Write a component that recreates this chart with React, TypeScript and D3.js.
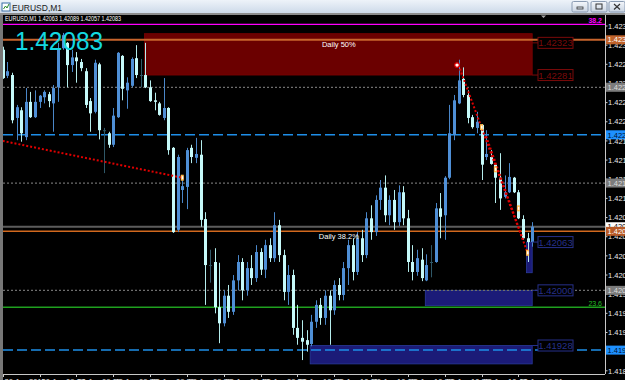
import React from 'react';
import * as d3 from 'd3';

// ---------- DATA ----------
const barOpen = [
  1.42314, 1.4228, 1.42281, 1.42225, 1.42235, 1.422, 1.42246, 1.42226, 1.42246, 1.42252,
  1.42256, 1.42244, 1.42265, 1.42316, 1.42323, 1.42294, 1.42304, 1.42298, 1.42286, 1.42247,
  1.42233, 1.42295, 1.42209, 1.42205, 1.4219, 1.42226, 1.42306, 1.42261, 1.42267, 1.42303,
  1.42281, 1.42281, 1.42265, 1.42248, 1.42244, 1.42225, 1.42238, 1.42186, 1.42079, 1.42131,
  1.42135, 1.42186, 1.42173, 1.42177, 1.42093, 1.42033, 1.42037, 1.41978, 1.41957, 1.41993,
  1.41972, 1.42013, 1.42037, 1.42, 1.42029, 1.42016, 1.4205, 1.42027, 1.42059, 1.42042,
  1.42085, 1.42046, 1.41998, 1.4202, 1.41951, 1.41938, 1.41935, 1.4193, 1.41959, 1.41981,
  1.41964, 1.41993, 1.41974, 1.42007, 1.41994, 1.42029, 1.42059, 1.42024, 1.42068, 1.42046,
  1.42094, 1.42076, 1.42118, 1.42134, 1.42098, 1.42118, 1.42089, 1.42128, 1.42094, 1.42037,
  1.42024, 1.4204, 1.42013, 1.42036, 1.42037, 1.42107, 1.42098, 1.42147, 1.42203, 1.42244,
  1.42276, 1.42255, 1.42226, 1.42212, 1.42216, 1.42174, 1.42174, 1.42164, 1.42147, 1.42122,
  1.42128, 1.42147, 1.42128, 1.42093, 1.42068, 1.42063,
];
const barHigh = [
  1.42318, 1.42298, 1.42284, 1.42242, 1.42239, 1.42264, 1.42259, 1.42261, 1.42255, 1.42261,
  1.42259, 1.42268, 1.42323, 1.42336, 1.42324, 1.42314, 1.42311, 1.42302, 1.4229, 1.42251,
  1.42301, 1.42297, 1.42212, 1.42207, 1.42238, 1.42311, 1.42307, 1.42278, 1.42304, 1.4232,
  1.42302, 1.42323, 1.42274, 1.42258, 1.42246, 1.42277, 1.42239, 1.42187, 1.42177, 1.42149,
  1.42186, 1.4219, 1.42199, 1.42196, 1.42102, 1.42053, 1.42055, 1.42036, 1.42, 1.42007,
  1.4202, 1.42046, 1.42042, 1.42037, 1.42046, 1.42059, 1.42055, 1.42066, 1.42068, 1.42102,
  1.42092, 1.42053, 1.42033, 1.42027, 1.41981, 1.41961, 1.41948, 1.41968, 1.41987, 1.4199,
  1.42, 1.42, 1.42013, 1.42016, 1.42037, 1.42066, 1.42068, 1.42076, 1.42079, 1.42102,
  1.42111, 1.42124, 1.42144, 1.4215, 1.42124, 1.42131, 1.42137, 1.42136, 1.42105, 1.42059,
  1.42053, 1.42055, 1.42047, 1.42059, 1.42114, 1.42127, 1.42149, 1.42242, 1.42255, 1.42301,
  1.42291, 1.42261, 1.42229, 1.42233, 1.42217, 1.42209, 1.42183, 1.42166, 1.42179, 1.4215,
  1.42166, 1.42148, 1.42131, 1.42098, 1.42075, 1.42089,
];
const barLow = [
  1.42276, 1.42277, 1.42218, 1.42196, 1.42194, 1.42196, 1.42225, 1.42225, 1.42238, 1.42244,
  1.42239, 1.42207, 1.42246, 1.42314, 1.42265, 1.42285, 1.42271, 1.42286, 1.42238, 1.42207,
  1.42231, 1.42197, 1.42153, 1.42186, 1.42187, 1.42225, 1.42248, 1.42237, 1.42265, 1.42277,
  1.42265, 1.42264, 1.42246, 1.42235, 1.42228, 1.42222, 1.42177, 1.42075, 1.42076, 1.42114,
  1.42106, 1.42166, 1.42166, 1.42083, 1.41981, 1.4201, 1.4197, 1.41931, 1.41953, 1.41964,
  1.41968, 1.42, 1.41987, 1.41993, 1.42007, 1.42011, 1.4202, 1.42016, 1.42037, 1.42037,
  1.42037, 1.41987, 1.41981, 1.41942, 1.41929, 1.41909, 1.4192, 1.41927, 1.41951, 1.41955,
  1.41955, 1.41929, 1.41968, 1.41987, 1.41987, 1.42007, 1.42013, 1.4202, 1.42037, 1.42042,
  1.42066, 1.42071, 1.42105, 1.42089, 1.42085, 1.42079, 1.42084, 1.42085, 1.42024, 1.42013,
  1.42019, 1.42012, 1.42012, 1.42017, 1.42036, 1.42068, 1.42066, 1.42145, 1.42196, 1.42243,
  1.42252, 1.42218, 1.42211, 1.42205, 1.42144, 1.4217, 1.42164, 1.42114, 1.42105, 1.4212,
  1.42127, 1.42127, 1.42093, 1.42066, 1.42037, 1.42057,
];
const barClose = [
  1.42277, 1.42286, 1.42222, 1.42239, 1.42205, 1.42246, 1.42226, 1.42246, 1.42254, 1.42259,
  1.42247, 1.42264, 1.42314, 1.42333, 1.42294, 1.42304, 1.42299, 1.4229, 1.42242, 1.42231,
  1.42297, 1.42209, 1.42208, 1.4219, 1.42228, 1.4231, 1.42263, 1.42271, 1.42302, 1.42281,
  1.4228, 1.42265, 1.42247, 1.42246, 1.42229, 1.42238, 1.42183, 1.42076, 1.42174, 1.42136,
  1.42183, 1.42174, 1.42178, 1.42092, 1.42033, 1.42032, 1.41978, 1.41957, 1.41993, 1.41972,
  1.42013, 1.42037, 1.42, 1.42029, 1.42016, 1.4205, 1.42027, 1.42059, 1.42042, 1.42085,
  1.42046, 1.41998, 1.4202, 1.41951, 1.41938, 1.41933, 1.41929, 1.41959, 1.41981, 1.41964,
  1.41993, 1.41974, 1.42007, 1.41994, 1.42029, 1.42059, 1.42024, 1.42068, 1.42046, 1.42094,
  1.42076, 1.42118, 1.42134, 1.42098, 1.42118, 1.42089, 1.42128, 1.42094, 1.42037, 1.42024,
  1.42042, 1.42016, 1.42033, 1.42037, 1.42107, 1.42096, 1.42147, 1.42205, 1.42248, 1.42274,
  1.42255, 1.42225, 1.42213, 1.4222, 1.42164, 1.42178, 1.42165, 1.42147, 1.4212, 1.42128,
  1.42148, 1.42128, 1.42094, 1.42068, 1.42063, 1.42083,
];

const timeLabels = [
  '20 Jun 2011', '20 Jun 09:07', '20 Jun 09:15', '20 Jun 09:23', '20 Jun 09:31',
  '20 Jun 09:39', '20 Jun 09:47', '20 Jun 09:55', '20 Jun 10:03', '20 Jun 10:11',
  '20 Jun 10:19', '20 Jun 10:27', '20 Jun 10:35', '20 Jun 10:43', '20 Jun 10:51',
];
const timeLabelBars = [0, 8, 16, 24, 32, 40, 48, 56, 64, 72, 80, 88, 96, 104, 112];

const priceTicks = [
  '1.42345', '1.42320', '1.42295', '1.42270', '1.42245', '1.42220', '1.42195', '1.42170',
  '1.42145', '1.42120', '1.42095', '1.42070', '1.42045', '1.42020', '1.41995', '1.41970',
  '1.41945', '1.41920', '1.41895',
];

// horizontal levels: magenta fib, orange fib 50%, grey, blue, grey, bid, orange fib 38.2%, grey, green fib 23.6, blue
const levelPrices = [1.42347, 1.42327, 1.42265, 1.42203, 1.4214, 1.42083, 1.42077, 1.42, 1.41978, 1.41922];
const levelNames = ['38.2', 'Daily 50%', '', '', '', '', 'Daily 38.2%', '', '23.6', ''];

// zones: [top, bottom], starting bar
const zoneTop = [1.42335, 1.42, 1.41928, 1.42063];
const zoneBottom = [1.42281, 1.4198, 1.41904, 1.42023];
const zoneStartBar = [31, 92, 67, 114];

const zoneLabelPrices = [1.42323, 1.42281, 1.42063, 1.42, 1.41928];

// trend lines: [bar, price] pairs
const trendA = [[0, 1.42195], [39, 1.42147]];
const trendB = [[99, 1.42294], [114, 1.42049]];
const trendC = [[105, 1.42201], [113, 1.42066]];

const markerBars = [39, 104, 107, 112, 114];
const markerPrices = [1.42147, 1.42213, 1.42158, 1.42107, 1.42049];

const infoText = 'EURUSD,M1  1.42063 1.42089 1.42057 1.42083';
const bigPrice = '1.42083';

// ---------- CHART ----------
export default function App() {
  const W = 625;
  const H = 380;
  const left = 3;
  const axisX = 605;
  const top = 15;
  const bottom = 374;

  const x = d3.scaleLinear().domain([0, barOpen.length - 1]).range([2.7, 532.2]);
  const y = d3.scaleLinear().domain([1.41895, 1.42345]).range([370.8, 26]);
  const fmt = d3.format('.5f');
  const line = d3.line<number[]>().x((d) => x(d[0])).y((d) => y(d[1]));

  const bullBody = '#4f8fd6';
  const bearBody = '#c6fafa';
  const dojiCol = '#2f5868';
  const font = "'Liberation Sans', Arial, sans-serif";

  const levelStyles = [
    { c: '#ff00ff', w: 1.2, d: undefined, tag: null },
    { c: '#c8642c', w: 2, d: undefined, tag: { bg: '#c0632b', fg: '#ffffff' } },
    { c: '#6e6e6e', w: 1.2, d: '2,2', tag: { bg: '#7c7c7c', fg: '#dddddd' } },
    { c: '#1e8ee8', w: 1.5, d: '10,4', tag: { bg: '#1e90ff', fg: '#001030' } },
    { c: '#6e6e6e', w: 1.2, d: '2,2', tag: { bg: '#7c7c7c', fg: '#dddddd' } },
    { c: '#5c5c5c', w: 2, d: undefined, tag: { bg: '#ffffff', fg: '#000000' } },
    { c: '#d2691e', w: 1.5, d: undefined, tag: { bg: '#b85a26', fg: '#ffffff' } },
    { c: '#6e6e6e', w: 1.2, d: '2,2', tag: { bg: '#7c7c7c', fg: '#dddddd' } },
    { c: '#1fa01f', w: 1.5, d: undefined, tag: null },
    { c: '#1e8ee8', w: 1.5, d: '10,4', tag: { bg: '#1e90ff', fg: '#001030' } },
  ];
  const zoneColors = ['#6b0000', '#1b1b78', '#1b1b78', '#1b1b78'];
  const zoneLabelColors = ['#7a0a0a', '#7a0a0a', '#26308a', '#26308a', '#26308a'];
  const zoneRight = x(barOpen.length - 1);

  return (
    <svg
      width={W}
      height={H}
      style={{ position: 'absolute', left: 0, top: 0, display: 'block' }}
      fontFamily={font}
    >
      <defs>
        <clipPath id="plotClip">
          <rect x={left} y={top} width={axisX - left} height={bottom - top} />
        </clipPath>
        <linearGradient id="titleGrad" x1="0" y1="0" x2="0" y2="1">
          <stop offset="0" stopColor="#eef3f9" />
          <stop offset="1" stopColor="#cbd8e8" />
        </linearGradient>
        <linearGradient id="btnGrad" x1="0" y1="0" x2="0" y2="1">
          <stop offset="0" stopColor="#f4f7fb" />
          <stop offset="1" stopColor="#c9d4e2" />
        </linearGradient>
      </defs>

      {/* window */}
      <rect x={0} y={0} width={W} height={H} fill="#000" />
      <rect x={0} y={0} width={W} height={14} fill="url(#titleGrad)" />
      <rect x={2} y={3} width={8} height={8} fill="#fff" stroke="#3a6ea5" strokeWidth={1} />
      <path d="M3.5,9 L5.5,6 L7,8 L9,4" stroke="#2a8a2a" fill="none" strokeWidth={1} />
      <text x={12} y={10.5} fontSize={8.5} fill="#1a1a1a">EURUSD,M1</text>
      {[572, 591, 609].map((bx, k) => (
        <g key={k}>
          <rect x={bx} y={1.5} width={16} height={10.5} rx={1.5} fill="url(#btnGrad)" stroke="#8a9bb2" />
          {k === 0 && <rect x={bx + 5} y={7} width={6} height={2} fill="none" stroke="#333" strokeWidth={0.8} />}
          {k === 1 && <rect x={bx + 5} y={4} width={6} height={5} fill="none" stroke="#333" strokeWidth={1} />}
          {k === 2 && <path d={`M${bx + 5},4 L${bx + 11},9.5 M${bx + 11},4 L${bx + 5},9.5`} stroke="#333" strokeWidth={1.2} />}
        </g>
      ))}
      <rect x={0} y={13} width={W} height={2} fill="#8c8c8c" />
      <rect x={0} y={15} width={left} height={H - 15} fill="#777" />

      {/* plot content */}
      <g clipPath="url(#plotClip)">
        {/* zones */}
        {zoneTop.map((t, k) => (
          <rect
            key={k}
            x={x(zoneStartBar[k]) - 1}
            y={y(t)}
            width={zoneRight - x(zoneStartBar[k]) + 1}
            height={y(zoneBottom[k]) - y(t)}
            fill={zoneColors[k]}
            stroke={k === 0 ? '#7a0000' : '#2a3a9a'}
            strokeWidth={0.8}
          />
        ))}

        {/* levels */}
        {levelPrices.map((p, k) => (
          <line
            key={k}
            x1={left}
            x2={axisX}
            y1={y(p)}
            y2={y(p)}
            stroke={levelStyles[k].c}
            strokeWidth={levelStyles[k].w}
            strokeDasharray={levelStyles[k].d}
          />
        ))}

        {/* candles */}
        {barOpen.map((o, i) => {
          const c = barClose[i];
          const cx = Math.round(x(i)) + 0.5;
          const doji = Math.abs(c - o) < 0.000015;
          const bull = c > o;
          const col = doji ? dojiCol : bull ? bullBody : bearBody;
          const wick = doji ? dojiCol : bull ? '#4a86c8' : '#b4ecec';
          const yt = y(Math.max(o, c));
          const yb = y(Math.min(o, c));
          return (
            <g key={i}>
              <line x1={cx} x2={cx} y1={y(barHigh[i])} y2={y(barLow[i])} stroke={wick} strokeWidth={1} />
              <rect x={cx - 1.5} y={yt} width={3} height={Math.max(1, yb - yt)} fill={col} />
            </g>
          );
        })}

        {/* trend lines */}
        {[trendA, trendB, trendC].map((t, k) => (
          <path key={k} d={line(t) || ''} stroke="#e00000" strokeWidth={2} strokeDasharray="2,2" fill="none" />
        ))}

        {/* markers */}
        {markerBars.map((b, k) => (
          <g key={k}>
            <rect x={x(b) - 1.5} y={y(markerPrices[k]) - 3} width={3} height={6} fill="#ffb84a" />
            <rect x={x(b) - 0.5} y={y(markerPrices[k]) - 1.5} width={1.5} height={3} fill="#fff" />
          </g>
        ))}
        <circle cx={x(99) - 1.5} cy={y(1.42294)} r={2.3} fill="#fff" stroke="#e00000" strokeWidth={1.2} />

        {/* fib level texts */}
        <text x={(x(31) + zoneRight) / 2} y={y(levelPrices[1]) + 7} fontSize={7.5} fill="#fff" textAnchor="middle">
          {levelNames[1]}
        </text>
        <text x={(x(31) + zoneRight) / 2} y={y(levelPrices[6]) + 7.5} fontSize={7.5} fill="#fff" textAnchor="middle">
          {levelNames[6]}
        </text>
        <text x={602} y={y(levelPrices[0]) - 1} fontSize={7} fill="#ff00ff" textAnchor="end" fontWeight="bold">
          {levelNames[0]}
        </text>
        <text x={602} y={y(levelPrices[8]) - 1.5} fontSize={7} fill="#22c022" textAnchor="end">
          {levelNames[8]}
        </text>

        {/* zone labels */}
        {zoneLabelPrices.map((p, k) => {
          const yy = y(p);
          return (
            <g key={k}>
              <line x1={zoneRight} x2={538} y1={yy} y2={yy} stroke={zoneLabelColors[k]} strokeWidth={1} />
              <rect x={538} y={yy - 5.5} width={35} height={11} fill="#000" stroke={zoneLabelColors[k]} strokeWidth={1} />
              <text x={555.5} y={yy + 3.6} fontSize={9.5} fill={zoneLabelColors[k]} textAnchor="middle">
                {fmt(p)}
              </text>
            </g>
          );
        })}

        {/* info text */}
        <text x={5} y={21} fontSize={7} fill="#fff" textLength={116} lengthAdjust="spacingAndGlyphs">
          {infoText}
        </text>
        <path d="M541,15.5 L546,15.5 L543.5,18 Z" fill="#aaa" />

        {/* big price */}
        <text x={15} y={50} fontSize={25} fill="#14d8e0" textLength={88} lengthAdjust="spacingAndGlyphs">
          {bigPrice}
        </text>
      </g>

      {/* right price axis */}
      <line x1={axisX + 0.5} x2={axisX + 0.5} y1={top} y2={bottom} stroke="#c8c8c8" />
      {priceTicks.map((t) => (
        <g key={t}>
          <line x1={axisX} x2={axisX + 2.5} y1={y(+t)} y2={y(+t)} stroke="#c8c8c8" />
          <text x={608} y={y(+t) + 2.7} fontSize={7.5} fill="#e8e8e8">
            {t}
          </text>
        </g>
      ))}
      {levelPrices.map((p, k) => {
        const tag = levelStyles[k].tag;
        if (!tag) return null;
        const yy = y(p);
        return (
          <g key={k}>
            <rect x={606} y={yy - 4.5} width={20} height={9} fill={tag.bg} />
            <text x={607.5} y={yy + 2.7} fontSize={7.5} fill={tag.fg}>
              {fmt(p)}
            </text>
          </g>
        );
      })}

      {/* time axis */}
      <line x1={left} x2={axisX} y1={bottom + 0.5} y2={bottom + 0.5} stroke="#c8c8c8" />
      {timeLabels.map((t, k) => {
        const tx = Math.round(x(timeLabelBars[k])) + 0.5;
        return (
          <g key={t}>
            <line x1={tx} x2={tx} y1={bottom} y2={bottom + 3} stroke="#c8c8c8" />
            <text x={tx + 1} y={384} fontSize={7.5} fill="#e8e8e8">
              {t}
            </text>
          </g>
        );
      })}
    </svg>
  );
}
